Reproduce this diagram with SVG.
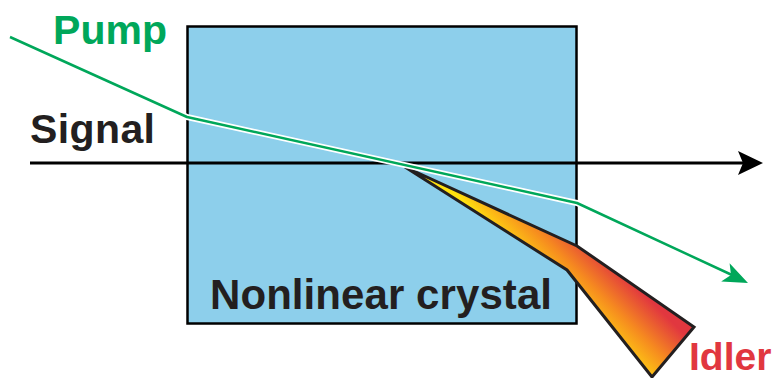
<svg xmlns="http://www.w3.org/2000/svg" width="782" height="378" viewBox="0 0 782 378">
  <style>
    .lbl { font-family: "Liberation Sans", Arial, sans-serif; font-weight: bold; }
    .beam { fill: none; stroke-linejoin: round; }
  </style>
  <defs>
    <linearGradient id="idlerGrad" gradientUnits="userSpaceOnUse" x1="608" y1="346" x2="652" y2="302">
      <stop offset="0" stop-color="#FFE20F"/>
      <stop offset="0.15" stop-color="#FDC214"/>
      <stop offset="0.5" stop-color="#F68B1F"/>
      <stop offset="1" stop-color="#E1373F"/>
    </linearGradient>
  </defs>
  <rect width="782" height="378" fill="#ffffff"/>

  <g id="crystal">
    <rect x="187.5" y="26.5" width="389" height="297" fill="#8DCFEB" stroke="#000" stroke-width="2.5"/>
    <text class="lbl" x="210" y="309" font-size="42" fill="#231F20" textLength="342">Nonlinear crystal</text>
  </g>

  <g id="connectors">
    <g id="signal-beam">
      <line x1="30" y1="163" x2="745" y2="163" stroke="#000" stroke-width="3"/>
      <polygon points="763,163 738,151 743,163 738,175" fill="#000"/>
    </g>
    <g id="idler-beam">
      <polygon points="405,167 577,246 694,327 652,377 567,270" fill="url(#idlerGrad)" stroke="#231F20" stroke-width="3" stroke-linejoin="miter"/>
    </g>
    <g id="pump-beam">
      <polyline class="beam" points="10,37 187,117 577,203 732,275" stroke="#ffffff" stroke-width="6"/>
      <polyline class="beam" points="10,37 187,117 577,203 732,275" stroke="#00A75A" stroke-width="2.5"/>
      <polygon points="748,283 729.6,263.3 731,275 721.2,281.5" fill="#00A75A"/>
    </g>
  </g>

  <g id="pump-label">
    <text class="lbl" x="53" y="44" font-size="41" fill="#00A75A" textLength="114">Pump</text>
  </g>
  <g id="signal-label">
    <text class="lbl" x="30" y="143" font-size="41" fill="#231F20" textLength="125">Signal</text>
  </g>
  <g id="idler-label">
    <text class="lbl" x="689" y="370" font-size="39" fill="#E1373F">Idler</text>
  </g>
</svg>
